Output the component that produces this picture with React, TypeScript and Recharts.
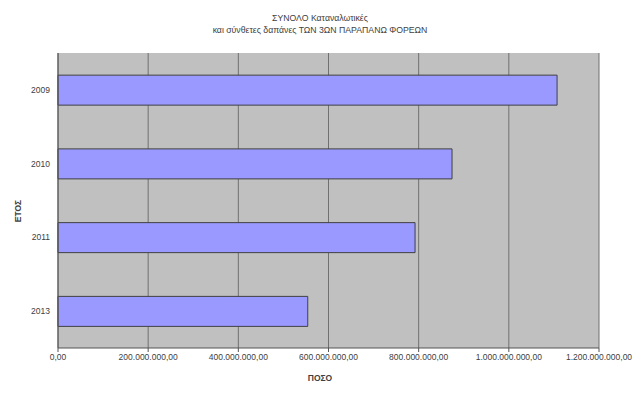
import { BarChart, Bar, XAxis, YAxis, CartesianGrid } from "recharts";

// values (amounts in euro)
const years = ["2009", "2010", "2011", "2013"];
const amounts = [1107000000, 874000000, 792000000, 554000000];
const xTicks = [0, 200000000, 400000000, 600000000, 800000000, 1000000000, 1200000000];
// category boundaries, used only for the small ticks on the left axis
const bounds = [0, 1, 2, 3, 4];

const data = years.map((y, i) => ({ year: y, amount: amounts[i] }));

// greek style number: 1.200.000.000,00
function fmt(v: number) {
  const [int, dec] = v.toFixed(2).split(".");
  return int.replace(/\B(?=(\d{3})+(?!\d))/g, ".") + "," + dec;
}

const font = "'Liberation Sans', Arial, sans-serif";
const textColor = "#404040";

export default function App() {
  return (
    <div style={{ position: "absolute", left: 0, top: 0, width: 640, height: 394, background: "#fff", fontFamily: font }}>
      <div style={{ position: "absolute", top: 12, left: 0, width: 640, textAlign: "center", fontSize: 8.7, color: textColor, lineHeight: "12px" }}>
        ΣΥΝΟΛΟ Καταναλωτικές
        <br />
        και σύνθετες δαπάνες ΤΩΝ 3ΩΝ ΠΑΡΑΠΑΝΩ ΦΟΡΕΩΝ
      </div>
      <BarChart
        width={640}
        height={394}
        data={data}
        layout="vertical"
        margin={{ top: 53, right: 41, bottom: 16, left: 0 }}
        barCategoryGap="30%"
      >
        <CartesianGrid horizontal={false} stroke="#707070" fill="#C0C0C0" />
        <XAxis
          type="number"
          dataKey="amount"
          domain={[0, 1200000000]}
          ticks={xTicks}
          interval={0}
          tickFormatter={fmt}
          height={30}
          tick={{ fontSize: 8.5, fill: textColor, fontFamily: font }}
          stroke="#555"
          tickSize={4}
        />
        <YAxis
          yAxisId="bounds"
          type="number"
          domain={[0, 4]}
          ticks={bounds}
          interval={0}
          reversed
          width={0}
          tick={false}
          tickSize={4}
          axisLine={false}
          stroke="#555"
        />
        <YAxis
          type="category"
          dataKey="year"
          width={58}
          tickLine={false}
          tick={{ fontSize: 8.5, fill: textColor, fontFamily: font }}
          stroke="#555"
        />
        <Bar dataKey="amount" fill="#9999FF" stroke="#404040" strokeWidth={1} isAnimationActive={false} />
      </BarChart>
      <div style={{ position: "absolute", top: 373, left: 0, width: 640, textAlign: "center", fontSize: 8.5, fontWeight: "bold", color: textColor }}>
        ΠΟΣΟ
      </div>
      <div
        style={{
          position: "absolute",
          left: 18,
          top: 211,
          fontSize: 8.5,
          fontWeight: "bold",
          color: textColor,
          transform: "translate(-50%, -50%) rotate(-90deg)",
          whiteSpace: "nowrap",
        }}
      >
        ΕΤΟΣ
      </div>
    </div>
  );
}
